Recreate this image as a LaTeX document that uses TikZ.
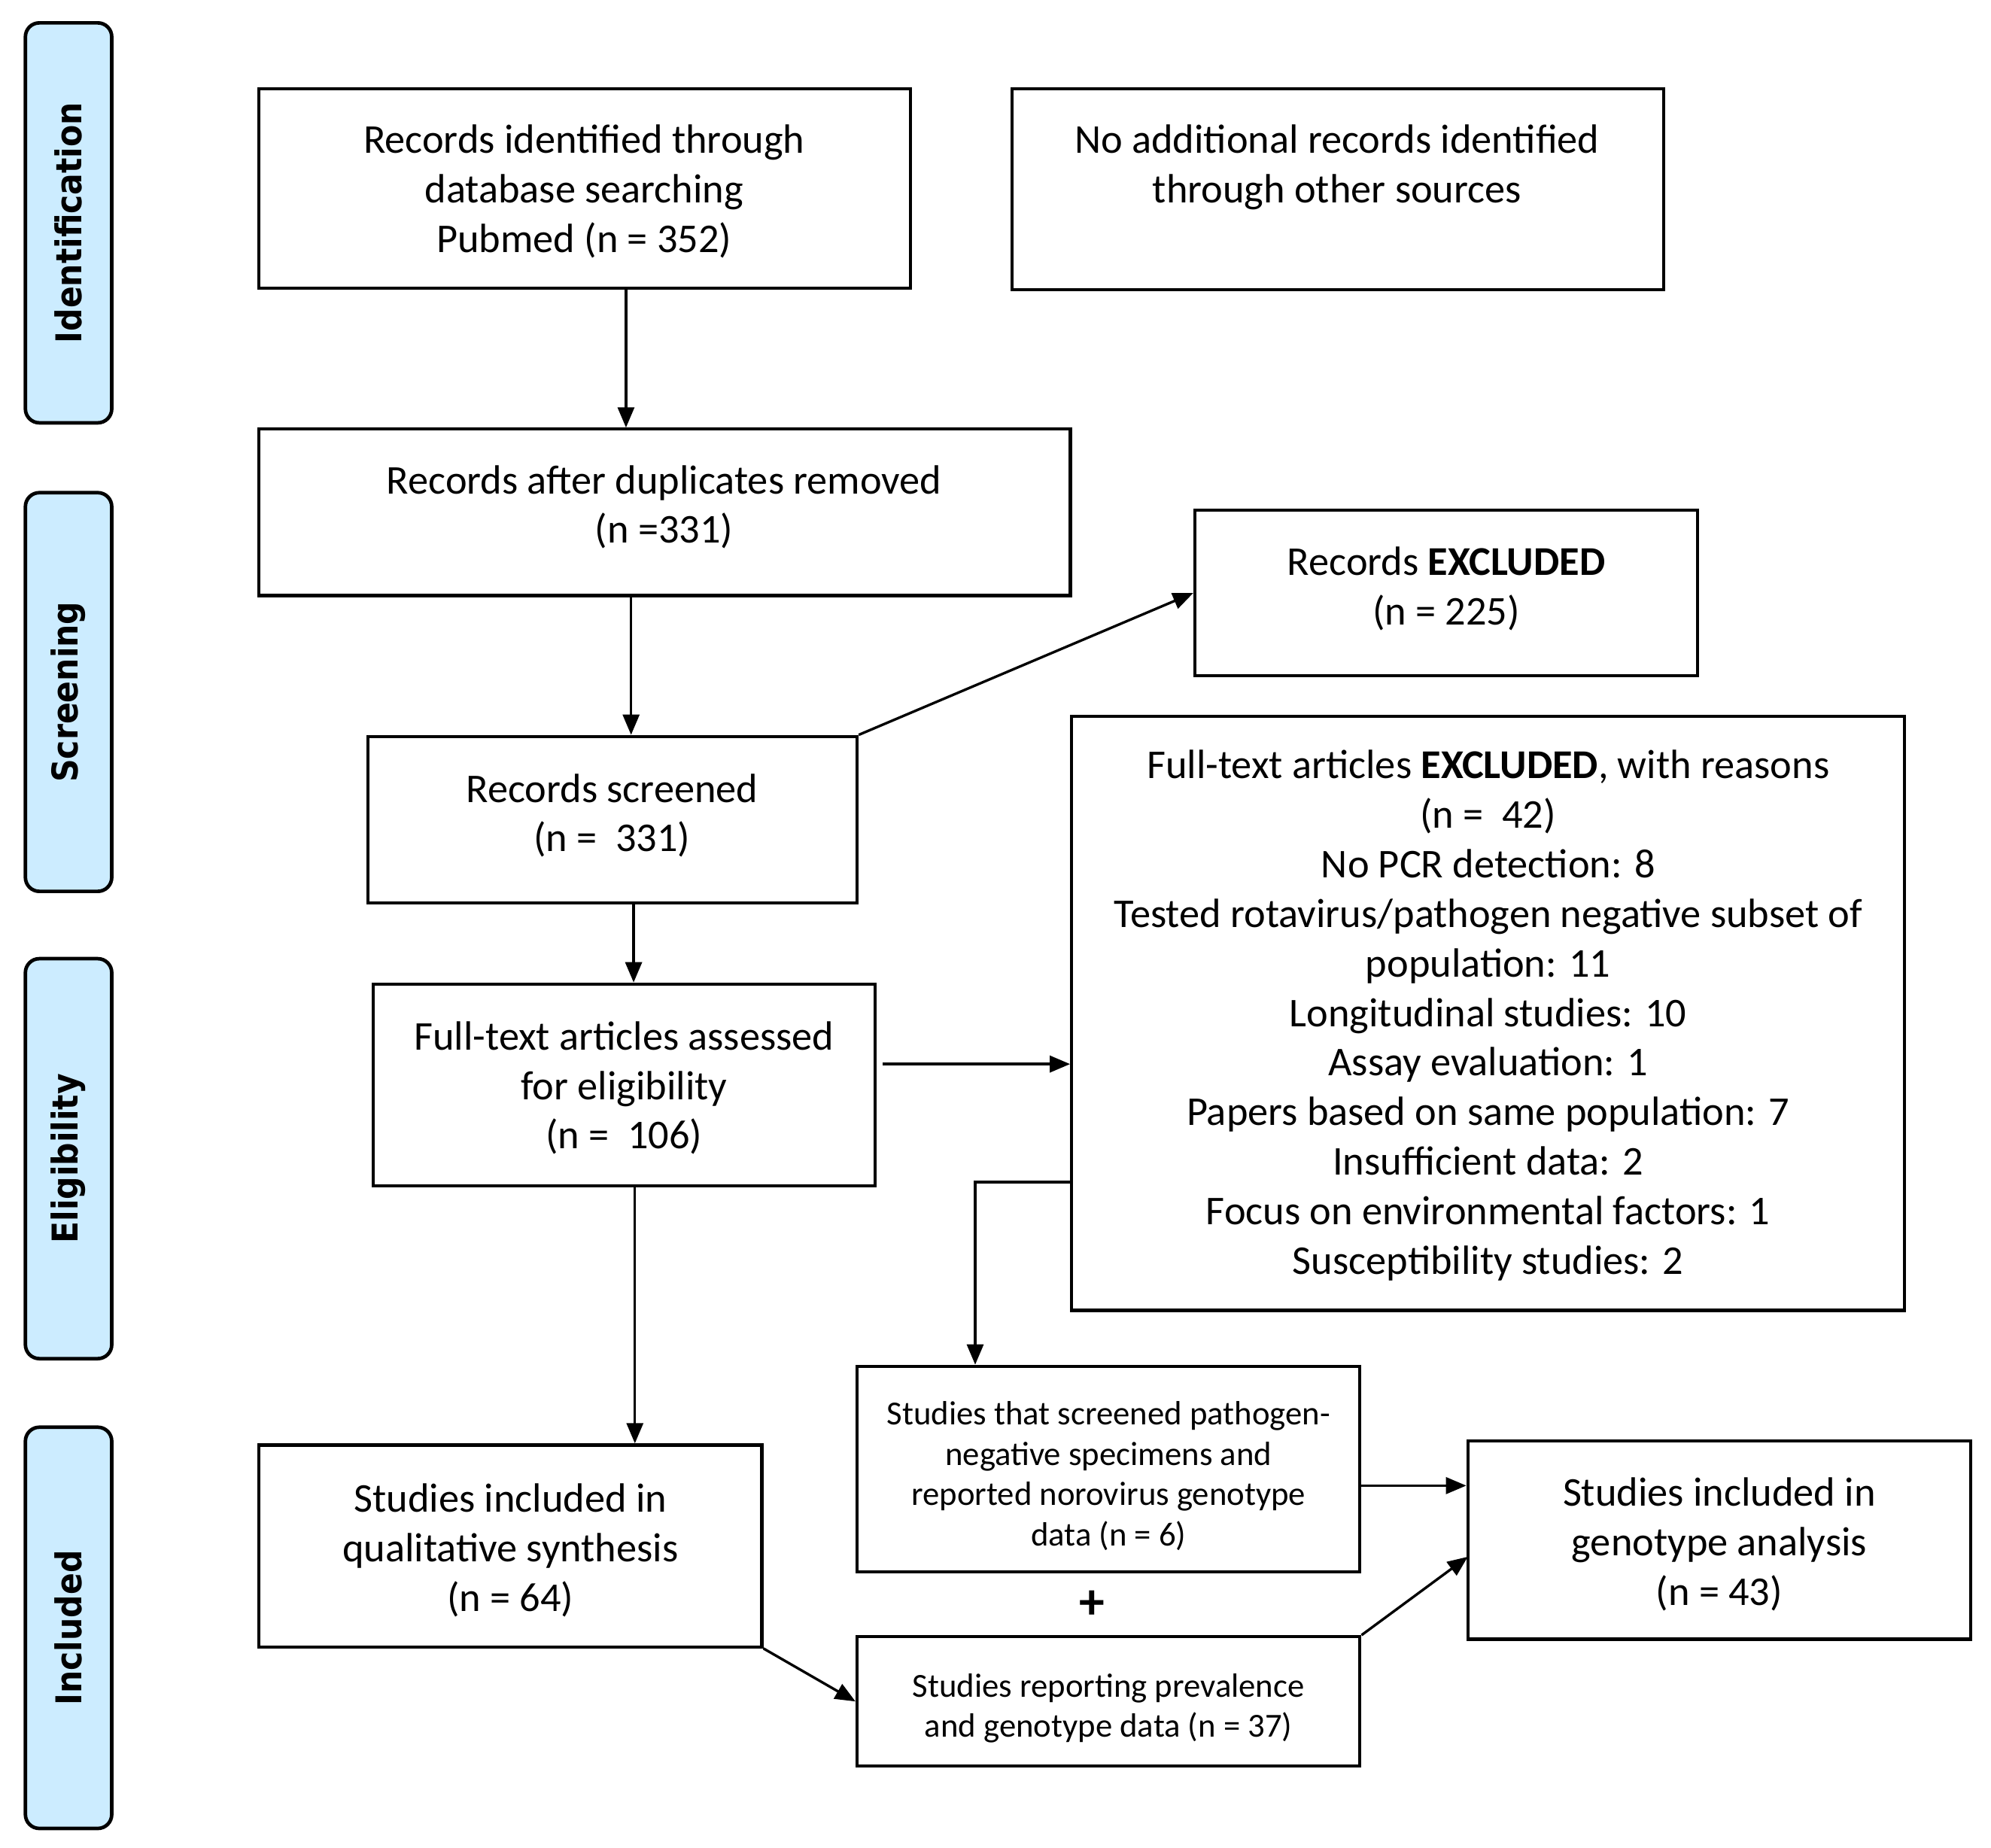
\documentclass[tikz,border=0pt]{standalone}
\usepackage{fontspec}
\usepackage{graphicx}
\setmainfont{Carlito}
\newfontfamily\sidefont{DejaVu Sans}
\usetikzlibrary{fit,arrows.meta}
\definecolor{sideblue}{RGB}{204,236,255}
\newcommand\mylines[1]{\begin{tabular}{@{}c@{}}#1\end{tabular}}
\newcommand\sidelab[1]{\scalebox{0.9}[1]{#1}}
\tikzset{
  box/.style={draw=black,line width=1.25pt,inner sep=0pt},
  txt/.style={inner sep=0pt,yshift=-1.5pt,font=\fontsize{16.1}{19.5}\selectfont},
  smalltxt/.style={inner sep=0pt,yshift=-1.5pt,font=\fontsize{13.25}{15.85}\selectfont},
  sidebox/.style={draw=black,line width=1.4pt,fill=sideblue,rounded corners=5.5pt,inner sep=0pt},
  sidetext/.style={rotate=90,inner sep=0pt,font=\sidefont\bfseries\fontsize{14}{16}\selectfont},
  arr/.style={line width=1pt,-{Triangle[length=8pt,width=6.5pt]}},
}
\begin{document}
\begin{tikzpicture}[x=0.5pt,y=-0.5pt]
\useasboundingbox (0,0) rectangle (1568,1455);
% side labels
\node[sidebox,fit={(20,18) (88,333)}] (sid) {};
\node[sidetext] (tid) at (sid.center) {\sidelab{Identification}};
\node[sidebox,fit={(20,388) (88,702)}] (sscr) {};
\node[sidetext] (tscr) at (sscr.center) {\sidelab{Screening}};
\node[sidebox,fit={(20,755) (88,1070)}] (selg) {};
\node[sidetext] (telg) at (selg.center) {\sidelab{Eligibility}};
\node[sidebox,fit={(20,1124) (88,1440)}] (sinc) {};
\node[sidetext] (tinc) at (sinc.center) {\sidelab{Included}};
% boxes
\node[box,fit={(204,70) (717,227)}] (b1) {};
\node[box,fit={(797,70) (1310,228)}] (b2) {};
\node[box,fit={(204,338) (843,469)}] (b3) {};
\node[box,fit={(941,402) (1337,532)}] (b4) {};
\node[box,fit={(290,580) (675,711)}] (b5) {};
\node[box,fit={(844,564) (1500,1032)}] (b6) {};
\node[box,fit={(294,775) (689,934)}] (b7) {};
\node[box,fit={(675,1076) (1071,1238)}] (b8) {};
\node[box,fit={(204,1138) (600,1297)}] (b9) {};
\node[box,fit={(675,1289) (1071,1391)}] (b10) {};
\node[box,fit={(1156,1135) (1552,1291)}] (b11) {};
% texts
\node[txt] (t1) at (460,149) {\mylines{Records identified through\\database searching\\Pubmed (n = 352)}};
\node[txt] (t2) at (1053,149) {\mylines{No additional records identified\\through other sources\\\mbox{}}};
\node[txt] (t3) at (523,397.5) {\mylines{Records after duplicates removed\\(n =331)}};
\node[txt] (t4) at (1139,462) {\mylines{Records \textbf{EXCLUDED}\\(n = 225)}};
\node[txt] (t5) at (482,640.5) {\mylines{Records screened\\(n =\ \ 331)}};
\node[txt] (t6) at (1172,797.5) {\mylines{Full-text articles \textbf{EXCLUDED}, with reasons\\(n =\ \ 42)\\No PCR detection: 8\\Tested rotavirus/pathogen negative subset of\\population: 11\\Longitudinal studies: 10\\Assay evaluation: 1\\Papers based on same population: 7\\Insufficient data: 2\\Focus on environmental factors: 1\\Susceptibility studies: 2}};
\node[txt] (t7) at (491.5,855) {\mylines{Full-text articles assessed\\for eligibility\\(n =\ \ 106)}};
\node[smalltxt] (t8) at (873,1160.5) {\mylines{Studies that screened pathogen-\\negative specimens and\\reported norovirus genotype\\data (n = 6)}};
\node[txt] (t9) at (402,1219) {\mylines{Studies included in\\qualitative synthesis\\(n = 64)}};
\node[smalltxt] (t10) at (873,1343) {\mylines{Studies reporting prevalence\\and genotype data (n = 37)}};
\node[txt] (t11) at (1354,1214.5) {\mylines{Studies included in\\genotype analysis\\(n = 43)}};
\node[inner sep=0pt,font=\fontsize{20}{20}\selectfont\bfseries] (plus) at (860,1264) {+};
% connectors
\draw[arr] (493,0 |- b1.south) -- (493,0 |- b3.north);
\draw[arr] (497,0 |- b3.south) -- (497,0 |- b5.north);
\draw[arr] (b5.north east) -- (b4.west);
\draw[arr] (499,0 |- b5.south) -- (499,0 |- b7.north);
\coordinate (c7) at (695,838);
\draw[arr] (c7) -- (c7 -| b6.west);
\coordinate (c6) at (844,931);
\draw[arr] (c6) -- (768,931) -- (768,0 |- b8.north);
\draw[arr] (500,0 |- b7.south) -- (500,0 |- b9.north);
\draw[arr] (b9.south east) -- (b10.west);
\coordinate (c8) at (1071,1170);
\draw[arr] (c8) -- (c8 -| b11.west);
\coordinate (c11) at (1156,1226);
\draw[arr] (b10.north east) -- (c11);
\end{tikzpicture}
\end{document}
